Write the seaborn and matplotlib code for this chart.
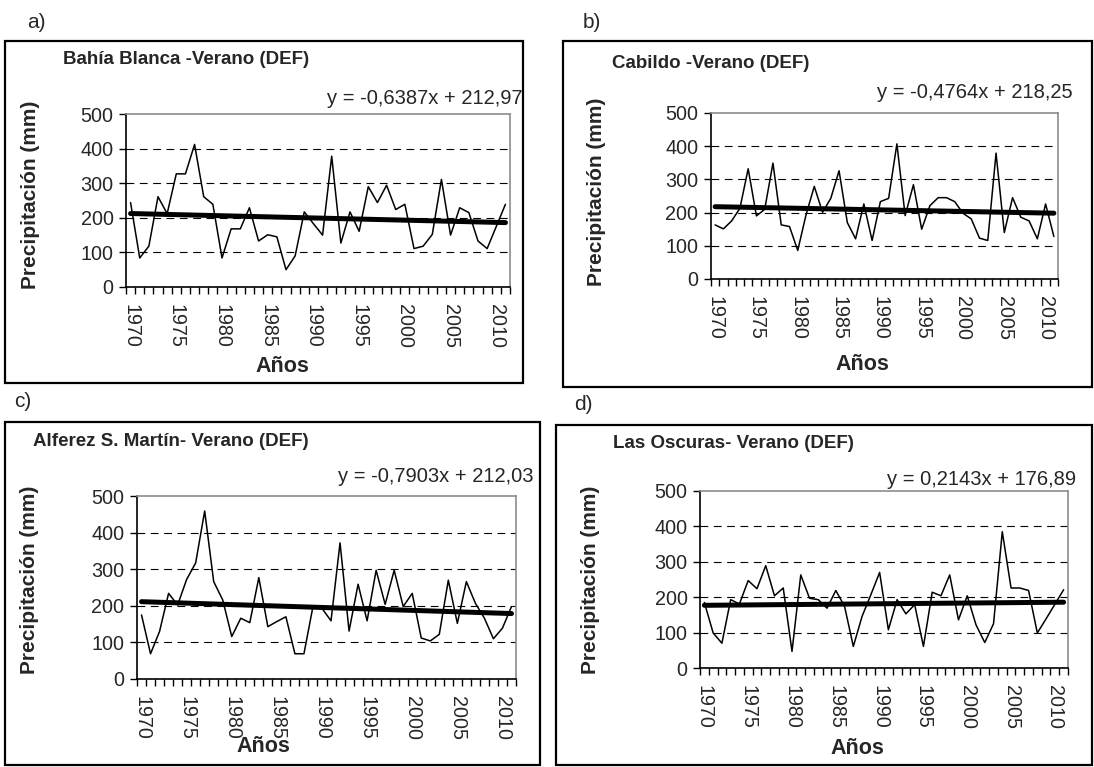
import numpy as np
import pandas as pd
import matplotlib
matplotlib.use("Agg")
import matplotlib.pyplot as plt
from matplotlib.patches import Rectangle
import seaborn as sns

# ---- data ---------------------------------------------------------------
years = list(range(1970, 2012))
year_ticks = [1970, 1975, 1980, 1985, 1990, 1995, 2000, 2005, 2010]
y_ticks = [0, 100, 200, 300, 400, 500]

bahia_blanca = [244, 84, 118, 261, 212, 327, 327, 412, 261, 239,
                84, 168, 168, 229, 133, 151, 145, 50, 90, 217,
                183, 150, 378, 127, 217, 161, 290, 244, 294, 224,
                239, 111, 118, 152, 311, 150, 229, 215, 133, 111,
                175, 239]
cabildo = [163, 151, 175, 213, 332, 190, 210, 349, 163, 158,
           86, 193, 279, 201, 243, 326, 170, 121, 226, 116,
           233, 243, 407, 191, 284, 150, 221, 245, 245, 233,
           198, 181, 123, 116, 379, 140, 245, 186, 175, 121,
           226, 128]
alferez = [175, 69, 130, 234, 202, 272, 317, 459, 266, 216,
           116, 166, 154, 277, 143, 157, 170, 69, 69, 198,
           193, 159, 372, 131, 259, 159, 297, 204, 297, 198,
           234, 112, 104, 122, 270, 152, 266, 207, 166, 110,
           139, 198]
oscuras = [185, 99, 70, 193, 181, 247, 224, 289, 204, 226,
           47, 263, 197, 193, 169, 219, 174, 61, 146, 207,
           270, 108, 193, 153, 179, 61, 214, 204, 263, 136,
           204, 122, 72, 125, 385, 226, 226, 219, 99, 139,
           180, 221]

titles = ["Bahía Blanca -Verano (DEF)", "Cabildo -Verano (DEF)",
          "Alferez S. Martín- Verano (DEF)", "Las Oscuras- Verano (DEF)"]
slopes = [-0.6387, -0.4764, -0.7903, 0.2143]
intercepts = [212.97, 218.25, 212.03, 176.89]
equations = ["y = -0,6387x + 212,97", "y = -0,4764x + 218,25",
             "y = -0,7903x + 212,03", "y = 0,2143x + 176,89"]
letters = ["a)", "b)", "c)", "d)"]
series = [bahia_blanca, cabildo, alferez, oscuras]

# ---- style ----------------------------------------------------------------
sns.set_style("white")
plt.rcParams["font.family"] = ["Liberation Sans", "DejaVu Sans"]

W, H = 1094, 767
fig = plt.figure(figsize=(W / 100, H / 100), dpi=100)


def fx(x):
    return x / W


def fy(y):
    return 1 - y / H


# pixel layout of each panel: plot area, outer frame and text anchors
panels = [
    dict(area=(126, 114, 510, 287), box=(5, 41, 523, 383),
         letter=(36, 22), title=(63, 60), eq=(523, 98),
         ylab=(31, 195), xlab=(282, 366)),
    dict(area=(711, 113, 1058, 279), box=(563, 41, 1092, 387),
         letter=(592, 22), title=(612, 63), eq=(1073, 92),
         ylab=(597, 192), xlab=(862, 364)),
    dict(area=(137, 496, 516, 679), box=(5, 422, 540, 765),
         letter=(23, 402), title=(33, 441), eq=(533, 477),
         ylab=(30, 580), xlab=(263, 747)),
    dict(area=(700, 491, 1068, 668), box=(556, 425, 1092, 765),
         letter=(583, 405), title=(613, 444), eq=(1076, 479),
         ylab=(590, 580), xlab=(857, 748)),
]

TICK_FS = 14.2

for k, p in enumerate(panels):
    x0, y0, x1, y1 = p["area"]
    ax = fig.add_axes([fx(x0), fy(y1), fx(x1 - x0), (y1 - y0) / H])

    df = pd.DataFrame({"pos": np.arange(len(years)), "pp": series[k]})
    sns.lineplot(data=df, x="pos", y="pp", ax=ax, color="black",
                 linewidth=1.1, zorder=3)

    # linear trend from the fitted equation (x = 1..n)
    xi = np.arange(1, len(years) + 1)
    trend = pd.DataFrame({"pos": xi - 1,
                          "tr": slopes[k] * xi + intercepts[k]})
    sns.lineplot(data=trend, x="pos", y="tr", ax=ax, color="black",
                 linewidth=3.6, zorder=4)

    ax.set_xlim(-0.5, len(years) - 0.5)
    ax.set_ylim(0, 500)

    # category axis: labels every 5 years, tick marks between categories
    ax.set_xticks([years.index(t) for t in year_ticks])
    ax.set_xticklabels([str(t) for t in year_ticks], rotation=-90,
                       fontsize=TICK_FS)
    ax.set_xticks(np.arange(-0.5, len(years), 1), minor=True)
    ax.tick_params(axis="x", which="major", length=0, pad=12)
    ax.tick_params(axis="x", which="minor", length=5, width=1,
                   color="black", direction="out", bottom=True)
    ax.set_yticks(y_ticks)
    ax.set_yticklabels([str(t) for t in y_ticks], fontsize=TICK_FS)
    ax.tick_params(axis="y", length=5, width=1, color="black",
                   direction="out", left=True, pad=4)

    for g in y_ticks[1:-1]:
        ax.axhline(g, color="black", linewidth=0.8,
                   dashes=(7, 5), zorder=1)

    for side in ["left", "bottom"]:
        ax.spines[side].set_color("black")
        ax.spines[side].set_linewidth(1.2)
    for side in ["top", "right"]:
        ax.spines[side].set_color("#8c8c8c")
        ax.spines[side].set_linewidth(1.2)

    ax.set_xlabel("")
    ax.set_ylabel("")

    # outer frame of the panel
    bx0, by0, bx1, by1 = p["box"]
    fig.add_artist(Rectangle((fx(bx0), fy(by1)), fx(bx1 - bx0),
                             (by1 - by0) / H, transform=fig.transFigure,
                             fill=False, edgecolor="black", linewidth=1.6))

    fig.text(fx(p["letter"][0]), fy(p["letter"][1]), letters[k],
             fontsize=15, ha="center", va="center")
    fig.text(fx(p["title"][0]), fy(p["title"][1]), titles[k],
             fontsize=13.5, fontweight="bold", ha="left", va="center")
    fig.text(fx(p["eq"][0]), fy(p["eq"][1]), equations[k],
             fontsize=14.5, ha="right", va="center")
    fig.text(fx(p["ylab"][0]), fy(p["ylab"][1]), "Precipitación (mm)",
             fontsize=15, fontweight="bold", rotation=90,
             ha="center", va="center")
    fig.text(fx(p["xlab"][0]), fy(p["xlab"][1]), "Años",
             fontsize=15.5, fontweight="bold", ha="center", va="center")

fig.savefig("out.png", dpi=100, facecolor="white")
